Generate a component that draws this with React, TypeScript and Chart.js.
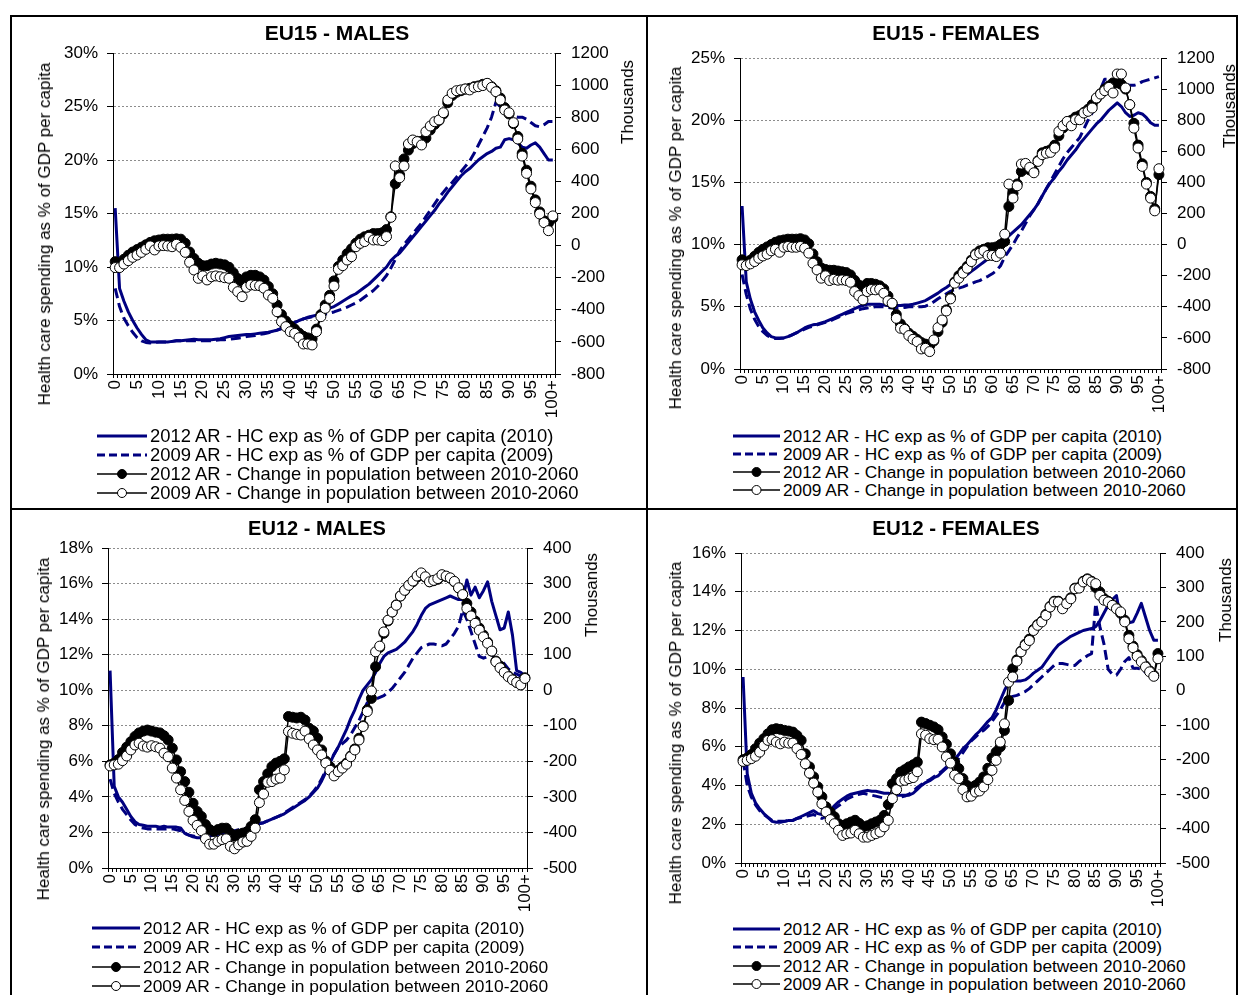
import React, { useEffect, useRef } from "react";
import { Chart, registerables } from "chart.js";

Chart.register(...registerables);

const FONT = '"Liberation Sans", Arial, Helvetica, sans-serif';

// Categories: single years of age 0..99 and "100+"
const AGES: string[] = Array.from({ length: 101 }, (_, i) => (i === 100 ? "100+" : String(i)));

const LEGEND_LABELS = [
  "2012 AR - HC exp as % of GDP per capita (2010)",
  "2009 AR - HC exp as % of GDP per capita (2009)",
  "2012 AR - Change in population between 2010-2060",
  "2009 AR - Change in population between 2010-2060",
];

// ---------------- EU15 - MALES ----------------
const EU15_M_HC_2012 = [
  15.5, 8.0, 6.8, 5.8, 5.0, 4.3, 3.7, 3.2, 3.0, 3.0,
  3.0, 3.0, 3.0, 3.05, 3.1, 3.1, 3.15, 3.2, 3.25, 3.2,
  3.2, 3.2, 3.2, 3.25, 3.3, 3.4, 3.5, 3.55, 3.6, 3.65,
  3.7, 3.7, 3.75, 3.8, 3.85, 3.9, 4.0, 4.1, 4.25, 4.4,
  4.6, 4.8, 5.0, 5.15, 5.3, 5.4, 5.5, 5.75, 6.0, 6.15,
  6.3, 6.55, 6.8, 7.05, 7.3, 7.5, 7.8, 8.1, 8.4, 8.8,
  9.2, 9.6, 10.0, 10.6, 11.0, 11.3, 11.8, 12.3, 12.8, 13.3,
  13.8, 14.3, 14.8, 15.3, 15.9, 16.4, 17.0, 17.5, 18.0, 18.5,
  18.9, 19.2, 19.6, 20.0, 20.3, 20.6, 20.8, 21.1, 21.2, 21.9,
  22.0, 21.9, 21.6, 21.2, 21.1, 21.4, 21.6, 21.2, 20.6, 20.0, 20.0,
];
const EU15_M_HC_2009 = [
  8.0, 6.3, 5.2, 4.5, 3.9, 3.4, 3.1, 2.95, 2.9, 2.95,
  3.0, 3.0, 3.0, 3.05, 3.1, 3.1, 3.1, 3.1, 3.1, 3.1,
  3.1, 3.1, 3.1, 3.15, 3.2, 3.2, 3.25, 3.3, 3.35, 3.4,
  3.5, 3.55, 3.6, 3.7, 3.75, 3.85, 3.95, 4.1, 4.25, 4.4,
  4.6, 4.8, 5.0, 5.15, 5.25, 5.35, 5.4, 5.5, 5.6, 5.7,
  5.8, 5.95, 6.1, 6.25, 6.45, 6.65, 6.9, 7.2, 7.5, 7.8,
  8.2, 8.7, 9.2, 9.9, 10.7, 11.5, 12.1, 12.6, 13.1, 13.6,
  14.1, 14.7, 15.3, 15.9, 16.5, 17.0, 17.5, 17.9, 18.4, 18.9,
  19.4, 19.9, 20.6, 21.4, 22.2, 23.0, 24.0, 25.4, 25.0, 24.6,
  24.3, 24.1, 24.0, 24.0, 23.8, 23.5, 23.2, 23.1, 23.3, 23.6, 23.6,
];
const EU15_M_POP_2012 = [
  -100, -110, -85, -60, -40, -25, -10, 5, 20, 30,
  35, 40, 40, 40, 42, 40, 15, -40, -80, -110,
  -125, -125, -115, -110, -115, -120, -135, -170, -205, -225,
  -195, -185, -185, -195, -215, -255, -300, -370, -430, -470,
  -500, -520, -545, -565, -575, -580, -520, -430, -370, -310,
  -220, -130, -90, -50, -20, 15, 40, 55, 65, 75,
  75, 80, 100, 180, 385, 440, 540, 595, 635, 650,
  650, 670, 720, 755, 780, 820, 890, 935, 955, 965,
  975, 980, 990, 995, 1005, 1010, 990, 965, 920, 860,
  820, 760, 680, 575, 470, 370, 285, 210, 155, 140, 170,
];
const EU15_M_POP_2009 = [
  -137, -137, -115, -94, -73, -59, -42, -23, -2, -27,
  -2, 0, -2, -7, 8, -11, -42, -104, -152, -204,
  -189, -214, -194, -189, -194, -200, -204, -260, -287, -318,
  -260, -245, -248, -250, -266, -308, -329, -412, -474, -505,
  -536, -547, -574, -613, -613, -619, -536, -443, -391, -329,
  -252, -148, -125, -90, -69, -7, 14, 25, 52, 35,
  35, 31, 56, 176, 496, 423, 496, 633, 658, 648,
  627, 710, 745, 772, 783, 828, 907, 949, 965, 970,
  976, 970, 986, 990, 997, 1011, 986, 959, 907, 845,
  828, 766, 664, 558, 450, 353, 268, 197, 143, 93, 185,
];

// ---------------- EU15 - FEMALES ----------------
const EU15_F_HC_2012 = [
  13.1, 7.0, 5.6, 4.6, 3.9, 3.3, 2.9, 2.6, 2.5, 2.5,
  2.5, 2.6, 2.75, 2.9, 3.1, 3.3, 3.45, 3.55, 3.6, 3.7,
  3.8, 3.95, 4.1, 4.25, 4.4, 4.55, 4.7, 4.85, 5.0, 5.1,
  5.2, 5.2, 5.2, 5.2, 5.15, 5.1, 5.1, 5.1, 5.1, 5.15,
  5.15, 5.2, 5.3, 5.4, 5.5, 5.7, 5.9, 6.1, 6.35, 6.55,
  6.8, 7.0, 7.2, 7.4, 7.6, 7.85, 8.1, 8.35, 8.6, 8.85,
  9.1, 9.5, 9.9, 10.3, 10.7, 11.0, 11.3, 11.6, 12.0, 12.4,
  12.8, 13.3, 13.9, 14.5, 15.0, 15.4, 15.9, 16.3, 16.8, 17.2,
  17.6, 18.1, 18.5, 18.9, 19.3, 19.7, 20.0, 20.4, 20.8, 21.1,
  21.4, 21.1, 20.6, 20.3, 20.4, 20.6, 20.5, 20.2, 19.8, 19.6, 19.6,
];
const EU15_F_HC_2009 = [
  7.6, 6.0, 4.8, 4.0, 3.4, 3.0, 2.7, 2.5, 2.45, 2.45,
  2.5, 2.6, 2.75, 2.9, 3.05, 3.2, 3.35, 3.45, 3.55, 3.65,
  3.75, 3.85, 4.0, 4.15, 4.3, 4.45, 4.55, 4.65, 4.75, 4.85,
  4.9, 4.95, 5.0, 5.0, 5.0, 4.95, 4.9, 4.9, 4.9, 4.95,
  5.0, 5.0, 5.0, 5.0, 5.05, 5.2, 5.4, 5.65, 5.85, 6.05,
  6.25, 6.4, 6.5, 6.6, 6.75, 6.85, 7.0, 7.1, 7.3, 7.45,
  7.65, 7.9, 8.3, 9.0, 9.5, 10.0, 10.6, 11.1, 11.7, 12.3,
  12.8, 13.3, 13.9, 14.5, 15.1, 15.7, 16.3, 16.9, 17.4, 17.8,
  18.2, 18.6, 19.3, 20.0, 20.6, 21.6, 22.5, 23.3, 23.3, 23.2,
  23.1, 23.0, 22.9, 22.8, 22.8, 22.9, 23.1, 23.2, 23.3, 23.4, 23.5,
];
const EU15_F_POP_2012 = [
  -98, -120, -100, -75, -50, -30, -15, 0, 15, 25,
  30, 35, 35, 35, 38, 30, 5, -60, -110, -150,
  -160, -165, -165, -170, -175, -180, -195, -230, -260, -280,
  -250, -250, -255, -265, -285, -330, -380, -450, -510, -540,
  -570, -590, -610, -630, -640, -650, -620, -560, -500, -420,
  -340, -240, -200, -170, -140, -100, -60, -40, -30, -20,
  -20, -15, 0, 20, 245, 330, 390, 470, 500, 480,
  470, 540, 590, 600, 610, 640, 700, 750, 790, 800,
  820, 830, 850, 870, 900, 940, 970, 1000, 1020, 1040,
  1040, 1030, 1000, 900, 780, 640, 520, 400, 310, 230, 450,
];
const EU15_F_POP_2009 = [
  -130, -135, -124, -109, -88, -73, -62, -40, -30, -49,
  -17, -12, -17, -17, -12, -23, -55, -120, -163, -216,
  -201, -231, -223, -229, -227, -231, -242, -302, -328, -356,
  -302, -289, -291, -287, -313, -362, -377, -474, -538, -545,
  -585, -609, -624, -671, -667, -688, -613, -534, -485, -427,
  -349, -248, -216, -184, -152, -109, -66, -55, -40, -70,
  -70, -77, -55, 67, 389, 299, 378, 518, 522, 496,
  462, 535, 578, 588, 593, 621, 728, 764, 792, 764,
  803, 803, 846, 857, 878, 943, 968, 990, 1011, 975,
  1097, 1097, 1007, 900, 749, 621, 503, 389, 299, 217, 488,
];

// ---------------- EU12 - MALES ----------------
const EU12_M_HC_2012 = [
  11.1, 4.6, 4.0, 3.7, 3.3, 2.9, 2.6, 2.45, 2.4, 2.35,
  2.35, 2.35, 2.3, 2.35, 2.3, 2.3, 2.3, 2.25, 1.95, 1.85,
  1.75, 1.7, 1.7, 1.75, 1.8, 1.85, 1.9, 1.95, 2.0, 2.0,
  2.05, 2.1, 2.15, 2.25, 2.35, 2.45, 2.5, 2.55, 2.65, 2.75,
  2.85, 2.95, 3.05, 3.2, 3.35, 3.5, 3.65, 3.8, 4.0, 4.25,
  4.5, 4.9, 5.4, 5.9, 6.4, 6.8, 7.3, 7.8, 8.4, 8.9,
  9.5, 10.0, 10.3, 10.6, 11.0, 11.5, 11.9, 12.1, 12.2, 12.3,
  12.5, 12.7, 13.0, 13.3, 13.7, 14.2, 14.6, 14.8, 14.9, 15.0,
  15.1, 15.2, 15.3, 15.2, 15.1, 15.1, 16.2, 15.35, 15.8, 15.2,
  15.6, 16.1, 15.0, 14.2, 13.4, 13.5, 14.4, 13.1, 11.1, 11.0, 10.8,
];
const EU12_M_HC_2009 = [
  5.0, 4.2, 3.7, 3.3, 3.0, 2.7, 2.45, 2.3, 2.25, 2.2,
  2.2, 2.2, 2.2, 2.2, 2.2, 2.2, 2.15, 2.1, 1.95, 1.85,
  1.8, 1.75, 1.75, 1.75, 1.8, 1.85, 1.9, 1.95, 2.0, 2.05,
  2.1, 2.15, 2.2, 2.25, 2.35, 2.45, 2.5, 2.55, 2.65, 2.75,
  2.85, 2.95, 3.1, 3.25, 3.4, 3.55, 3.7, 3.85, 4.05, 4.3,
  4.6, 5.0, 5.5, 6.0, 6.4, 6.8, 7.0, 7.2, 7.5, 7.9,
  8.3, 8.8, 9.3, 9.45, 9.5, 9.6, 9.7, 9.9, 10.1, 10.4,
  10.7, 11.0, 11.4, 11.8, 12.1, 12.4, 12.5, 12.6, 12.6, 12.55,
  12.5, 12.6, 12.9, 13.2, 13.6, 14.5, 14.0, 13.3, 12.6, 11.9,
  11.8, 11.9, 12.0, 11.8, 11.7, 11.5, 11.2, 11.0, 10.9, 10.8, 10.8,
];
const EU12_M_POP_2012 = [
  -210, -205, -195, -175, -160, -145, -130, -120, -115, -112,
  -115, -118, -120, -128, -140, -163, -196, -229, -257, -287,
  -318, -341, -355, -378, -392, -397, -392, -388, -388, -402,
  -411, -405, -402, -398, -383, -364, -280, -257, -235, -215,
  -205, -200, -193, -74, -76, -78, -76, -84, -107, -115,
  -135, -168, -199, -215, -230, -225, -215, -205, -185, -165,
  -135, -100, -55, -23, 66, 120, 160, 195, 220, 240,
  265, 280, 295, 305, 318, 325, 318, 305, 308, 312,
  322, 320, 315, 305, 288, 270, 244, 220, 195, 175,
  155, 135, 110, 82, 68, 52, 40, 30, 22, 15, 35,
];
const EU12_M_POP_2009 = [
  -213, -210, -208, -198, -185, -168, -154, -149, -157, -160,
  -156, -159, -163, -177, -187, -219, -247, -280, -310, -341,
  -366, -380, -395, -418, -433, -433, -425, -420, -418, -439,
  -446, -435, -427, -425, -411, -388, -316, -292, -259, -257,
  -250, -247, -224, -116, -121, -124, -126, -115, -137, -154,
  -168, -182, -205, -225, -241, -229, -219, -208, -187, -168,
  -140, -102, -60, -2, 108, 124, 164, 197, 220, 239,
  265, 281, 295, 307, 321, 330, 319, 305, 309, 314,
  325, 321, 316, 306, 288, 269, 230, 209, 188, 169,
  150, 132, 110, 80, 63, 50, 38, 29, 22, 15, 33,
];

// ---------------- EU12 - FEMALES ----------------
const EU12_F_HC_2012 = [
  9.6, 4.6, 3.6, 3.1, 2.8, 2.55, 2.35, 2.15, 2.1, 2.1,
  2.15, 2.2, 2.2, 2.3, 2.4, 2.5, 2.6, 2.7, 2.55, 2.5,
  2.5, 2.7, 2.95, 3.15, 3.3, 3.45, 3.55, 3.6, 3.65, 3.7,
  3.75, 3.7, 3.7, 3.65, 3.6, 3.6, 3.55, 3.5, 3.5, 3.5,
  3.5, 3.6, 3.8, 4.0, 4.15, 4.25, 4.4, 4.5, 4.7, 4.9,
  5.1, 5.35, 5.6, 5.9, 6.1, 6.35, 6.6, 6.8, 7.05, 7.3,
  7.5, 7.9, 8.4, 8.9, 9.3, 9.4, 9.4, 9.4, 9.45, 9.6,
  9.8, 9.95, 10.1, 10.4, 10.7, 11.0, 11.25, 11.4, 11.55, 11.7,
  11.8, 11.9, 12.0, 12.05, 12.1, 12.2, 12.5, 12.9, 13.3, 13.6,
  13.8, 12.6, 12.5, 12.4, 12.45, 12.9, 13.4, 12.7, 12.0, 11.5, 11.5,
];
const EU12_F_HC_2009 = [
  5.3, 4.0, 3.4, 3.0, 2.7, 2.5, 2.35, 2.2, 2.15, 2.15,
  2.15, 2.2, 2.2, 2.3, 2.35, 2.4, 2.45, 2.5, 2.4, 2.3,
  2.4, 2.6, 2.8, 2.95, 3.1, 3.3, 3.4, 3.5, 3.55, 3.6,
  3.55, 3.5, 3.45, 3.4, 3.35, 3.3, 3.3, 3.35, 3.4, 3.45,
  3.55, 3.7, 3.9, 4.05, 4.2, 4.3, 4.45, 4.6, 4.75, 4.95,
  5.1, 5.25, 5.4, 5.7, 6.0, 6.3, 6.5, 6.7, 6.85, 7.05,
  7.3, 7.6, 7.9, 8.3, 8.5, 8.6, 8.65, 8.75, 8.85, 9.0,
  9.2, 9.4, 9.6, 9.8, 10.0, 10.2, 10.3, 10.3, 10.25, 10.2,
  10.2, 10.4, 10.55, 10.7, 10.8, 13.4, 12.2, 11.3, 10.0, 9.75,
  9.7, 10.0, 10.4, 10.6, 10.05, 10.05, 10.0, 9.85, 9.7, 9.6, 9.5,
];
const EU12_F_POP_2012 = [
  -200, -195, -185, -168, -152, -139, -125, -113, -110, -112,
  -115, -117, -120, -130, -144, -183, -221, -250, -279, -308,
  -337, -352, -366, -386, -391, -386, -381, -376, -385, -395,
  -392, -386, -381, -376, -362, -330, -270, -255, -236, -229,
  -221, -215, -207, -91, -95, -100, -105, -113, -134, -155,
  -183, -207, -226, -255, -275, -280, -275, -265, -250, -225,
  -195, -178, -163, -115, -28, 64, 90, 115, 135, 150,
  178, 192, 202, 222, 245, 260, 260, 242, 255, 270,
  298, 300, 318, 325, 318, 300, 287, 268, 260, 250,
  240, 225, 205, 161, 130, 105, 88, 72, 58, 45, 108,
];
const EU12_F_POP_2009 = [
  -205, -202, -197, -190, -178, -160, -144, -142, -149, -154,
  -149, -152, -152, -168, -185, -212, -239, -268, -294, -328,
  -352, -374, -386, -405, -420, -415, -413, -405, -415, -425,
  -425, -420, -415, -410, -395, -376, -313, -287, -262, -260,
  -255, -252, -235, -125, -129, -139, -142, -141, -163, -192,
  -210, -245, -255, -287, -308, -306, -294, -291, -279, -258,
  -231, -202, -149, -96, 25, 40, 86, 113, 132, 146,
  175, 190, 200, 219, 243, 258, 258, 238, 253, 267,
  296, 298, 316, 323, 316, 311, 277, 263, 258, 248,
  238, 229, 200, 151, 125, 100, 84, 69, 55, 42, 93,
];

type PanelCfg = {
  title: string;
  hc2012: number[];
  hc2009: number[];
  pop2012: number[];
  pop2009: number[];
  yMax: number;
  yStep: number;
  rMin: number;
  rMax: number;
  rStep: number;
  // layout (page pixels)
  L: number; R: number; T: number; B: number;
  titleX: number; titleY: number; titleSize: number;
  leftTitleX: number; leftTitleY: number;
  rightTitleX: number; rightTitleY: number;
  legX: number; legTextX: number; legY: number; legDy: number; legSize: number;
};

const PANELS: PanelCfg[] = [
  {
    title: "EU15 - MALES",
    hc2012: EU15_M_HC_2012, hc2009: EU15_M_HC_2009, pop2012: EU15_M_POP_2012, pop2009: EU15_M_POP_2009,
    yMax: 30, yStep: 5, rMin: -800, rMax: 1200, rStep: 200,
    L: 113, R: 555, T: 53, B: 374,
    titleX: 337, titleY: 33, titleSize: 21,
    leftTitleX: 45, leftTitleY: 234, rightTitleX: 628, rightTitleY: 102,
    legX: 97, legTextX: 150, legY: 436, legDy: 19, legSize: 18.4,
  },
  {
    title: "EU15 - FEMALES",
    hc2012: EU15_F_HC_2012, hc2009: EU15_F_HC_2009, pop2012: EU15_F_POP_2012, pop2009: EU15_F_POP_2009,
    yMax: 25, yStep: 5, rMin: -800, rMax: 1200, rStep: 200,
    L: 740, R: 1161, T: 58, B: 369,
    titleX: 956, titleY: 33, titleSize: 20.5,
    leftTitleX: 676, leftTitleY: 238, rightTitleX: 1230, rightTitleY: 106,
    legX: 733, legTextX: 783, legY: 436, legDy: 18, legSize: 17.3,
  },
  {
    title: "EU12 - MALES",
    hc2012: EU12_M_HC_2012, hc2009: EU12_M_HC_2009, pop2012: EU12_M_POP_2012, pop2009: EU12_M_POP_2009,
    yMax: 18, yStep: 2, rMin: -500, rMax: 400, rStep: 100,
    L: 108, R: 527, T: 548, B: 868,
    titleX: 317, titleY: 528, titleSize: 20,
    leftTitleX: 44, leftTitleY: 729, rightTitleX: 592, rightTitleY: 595,
    legX: 92, legTextX: 143, legY: 928, legDy: 19.3, legSize: 17.4,
  },
  {
    title: "EU12 - FEMALES",
    hc2012: EU12_F_HC_2012, hc2009: EU12_F_HC_2009, pop2012: EU12_F_POP_2012, pop2009: EU12_F_POP_2009,
    yMax: 16, yStep: 2, rMin: -500, rMax: 400, rStep: 100,
    L: 741, R: 1160, T: 553, B: 863,
    titleX: 956, titleY: 528, titleSize: 20.5,
    leftTitleX: 676, leftTitleY: 733, rightTitleX: 1226, rightTitleY: 600,
    legX: 733, legTextX: 783, legY: 929, legDy: 18.3, legSize: 17.3,
  },
];

const PAD_L = 20;
const AX_W = 60;
const PAD_R = 20;
const PAD_T = 25;
const X_H = 48;
const PAD_B = 5;

function LegendSymbol({ kind, width }: { kind: number; width: number }) {
  const cy = 7;
  if (kind === 0) {
    return (
      <svg width={width} height={14} style={{ display: "block" }}>
        <line x1={0} y1={cy} x2={width} y2={cy} stroke="#000080" strokeWidth={3} />
      </svg>
    );
  }
  if (kind === 1) {
    return (
      <svg width={width} height={14} style={{ display: "block" }}>
        <line x1={0} y1={cy} x2={width} y2={cy} stroke="#000080" strokeWidth={3} strokeDasharray="8 4" />
      </svg>
    );
  }
  return (
    <svg width={width} height={14} style={{ display: "block" }}>
      <line x1={0} y1={cy} x2={width} y2={cy} stroke="#000" strokeWidth={1.5} />
      <circle cx={width / 2} cy={cy} r={4.5} fill={kind === 2 ? "#000" : "#fff"} stroke="#000" strokeWidth={1} />
    </svg>
  );
}

function Panel({ p }: { p: PanelCfg }) {
  const ref = useRef<HTMLCanvasElement | null>(null);
  const cw = p.R - p.L + PAD_L + AX_W + AX_W + PAD_R;
  const ch = p.B - p.T + PAD_T + X_H + PAD_B;
  const canvasLeft = p.L - PAD_L - AX_W;
  const canvasTop = p.T - PAD_T;

  useEffect(() => {
    if (!ref.current) return;
    const tickFont = { family: FONT, size: 17 };
    const chart = new Chart(ref.current, {
      type: "line",
      data: {
        labels: AGES,
        datasets: [
          {
            label: LEGEND_LABELS[3],
            data: p.pop2009,
            yAxisID: "y1",
            borderColor: "#000",
            borderWidth: 1.5,
            pointRadius: 5,
            pointHoverRadius: 5,
            pointBackgroundColor: "#fff",
            pointBorderColor: "#000",
            pointBorderWidth: 1,
            fill: false,
            tension: 0,
            order: 0,
          },
          {
            label: LEGEND_LABELS[2],
            data: p.pop2012,
            yAxisID: "y1",
            borderColor: "#000",
            borderWidth: 1.5,
            pointRadius: 5,
            pointHoverRadius: 5,
            pointBackgroundColor: "#000",
            pointBorderColor: "#000",
            pointBorderWidth: 1,
            fill: false,
            tension: 0,
            order: 1,
          },
          {
            label: LEGEND_LABELS[1],
            data: p.hc2009,
            yAxisID: "y",
            borderColor: "#000080",
            borderWidth: 3,
            borderDash: [10, 5],
            borderJoinStyle: "round",
            pointRadius: 0,
            fill: false,
            tension: 0,
            order: 2,
          },
          {
            label: LEGEND_LABELS[0],
            data: p.hc2012,
            yAxisID: "y",
            borderColor: "#000080",
            borderWidth: 3,
            borderJoinStyle: "round",
            pointRadius: 0,
            fill: false,
            tension: 0,
            order: 3,
          },
        ],
      },
      options: {
        responsive: false,
        animation: false,
        events: [],
        layout: { padding: { left: PAD_L, right: PAD_R, top: PAD_T, bottom: PAD_B } },
        plugins: { legend: { display: false }, tooltip: { enabled: false }, title: { display: false } },
        scales: {
          x: {
            type: "category",
            offset: true,
            grid: {
              display: true,
              drawOnChartArea: false,
              drawTicks: true,
              tickLength: 4,
              offset: true,
              color: "#000",
            },
            border: { display: true, color: "#000", width: 1 },
            ticks: {
              autoSkip: false,
              minRotation: 90,
              maxRotation: 90,
              padding: 2,
              color: "#000",
              font: tickFont,
              callback: (_v: any, i: number) => (i % 5 === 0 ? AGES[i] : ""),
            },
            afterFit: (s: any) => {
              s.height = X_H;
            },
          },
          y: {
            type: "linear",
            position: "left",
            min: 0,
            max: p.yMax,
            grid: {
              display: true,
              drawOnChartArea: true,
              drawTicks: true,
              tickLength: 6,
              color: "#8c8c8c",
              tickColor: "#000",
              lineWidth: 1,
            },
            border: { display: true, color: "#000", width: 1, dash: [2, 2] },
            ticks: {
              stepSize: p.yStep,
              padding: 9,
              color: "#000",
              font: tickFont,
              callback: (v: any) => `${v}%`,
            },
            afterFit: (s: any) => {
              s.width = AX_W;
            },
          },
          y1: {
            type: "linear",
            position: "right",
            min: p.rMin,
            max: p.rMax,
            grid: {
              display: true,
              drawOnChartArea: false,
              drawTicks: true,
              tickLength: 6,
              color: "#000",
            },
            border: { display: true, color: "#000", width: 1 },
            ticks: {
              stepSize: p.rStep,
              padding: 10,
              color: "#000",
              font: tickFont,
              callback: (v: any) => String(v),
            },
            afterFit: (s: any) => {
              s.width = AX_W;
            },
          },
        },
      },
    } as any);
    return () => chart.destroy();
  }, []);

  return (
    <>
      <canvas
        ref={ref}
        width={cw}
        height={ch}
        style={{ position: "absolute", left: canvasLeft, top: canvasTop, width: cw, height: ch }}
      />
      <div
        style={{
          position: "absolute",
          left: p.titleX - 200,
          top: p.titleY - 13,
          width: 400,
          textAlign: "center",
          fontWeight: "bold",
          fontSize: p.titleSize,
          lineHeight: "26px",
          whiteSpace: "nowrap",
        }}
      >
        {p.title}
      </div>
      <div
        style={{
          position: "absolute",
          left: p.leftTitleX,
          top: p.leftTitleY,
          transform: "translate(-50%, -50%) rotate(-90deg)",
          fontSize: 17,
          lineHeight: "20px",
          whiteSpace: "nowrap",
        }}
      >
        Health care spending as % of GDP per capita
      </div>
      <div
        style={{
          position: "absolute",
          left: p.rightTitleX,
          top: p.rightTitleY,
          transform: "translate(-50%, -50%) rotate(-90deg)",
          fontSize: 17,
          lineHeight: "20px",
          whiteSpace: "nowrap",
        }}
      >
        Thousands
      </div>
      {LEGEND_LABELS.map((lab, k) => (
        <div key={k}>
          <div style={{ position: "absolute", left: p.legX, top: p.legY + k * p.legDy - 7 }}>
            <LegendSymbol kind={k} width={p.legTextX - p.legX - 3} />
          </div>
          <div
            style={{
              position: "absolute",
              left: p.legTextX,
              top: p.legY + k * p.legDy - 10,
              fontSize: p.legSize,
              lineHeight: "20px",
              whiteSpace: "nowrap",
            }}
          >
            {lab}
          </div>
        </div>
      ))}
    </>
  );
}

export default function App() {
  return (
    <div
      style={{
        position: "absolute",
        left: 0,
        top: 0,
        width: 1239,
        height: 995,
        overflow: "hidden",
        background: "#fff",
        fontFamily: FONT,
        color: "#000",
      }}
    >
      <div
        style={{
          position: "absolute",
          left: 10,
          top: 15,
          width: 1228,
          height: 1000,
          border: "2px solid #000",
          boxSizing: "border-box",
        }}
      />
      <div style={{ position: "absolute", left: 646, top: 15, width: 2, height: 990, background: "#000" }} />
      <div style={{ position: "absolute", left: 10, top: 508, width: 1228, height: 2, background: "#000" }} />
      {PANELS.map((p, i) => (
        <Panel key={i} p={p} />
      ))}
    </div>
  );
}
